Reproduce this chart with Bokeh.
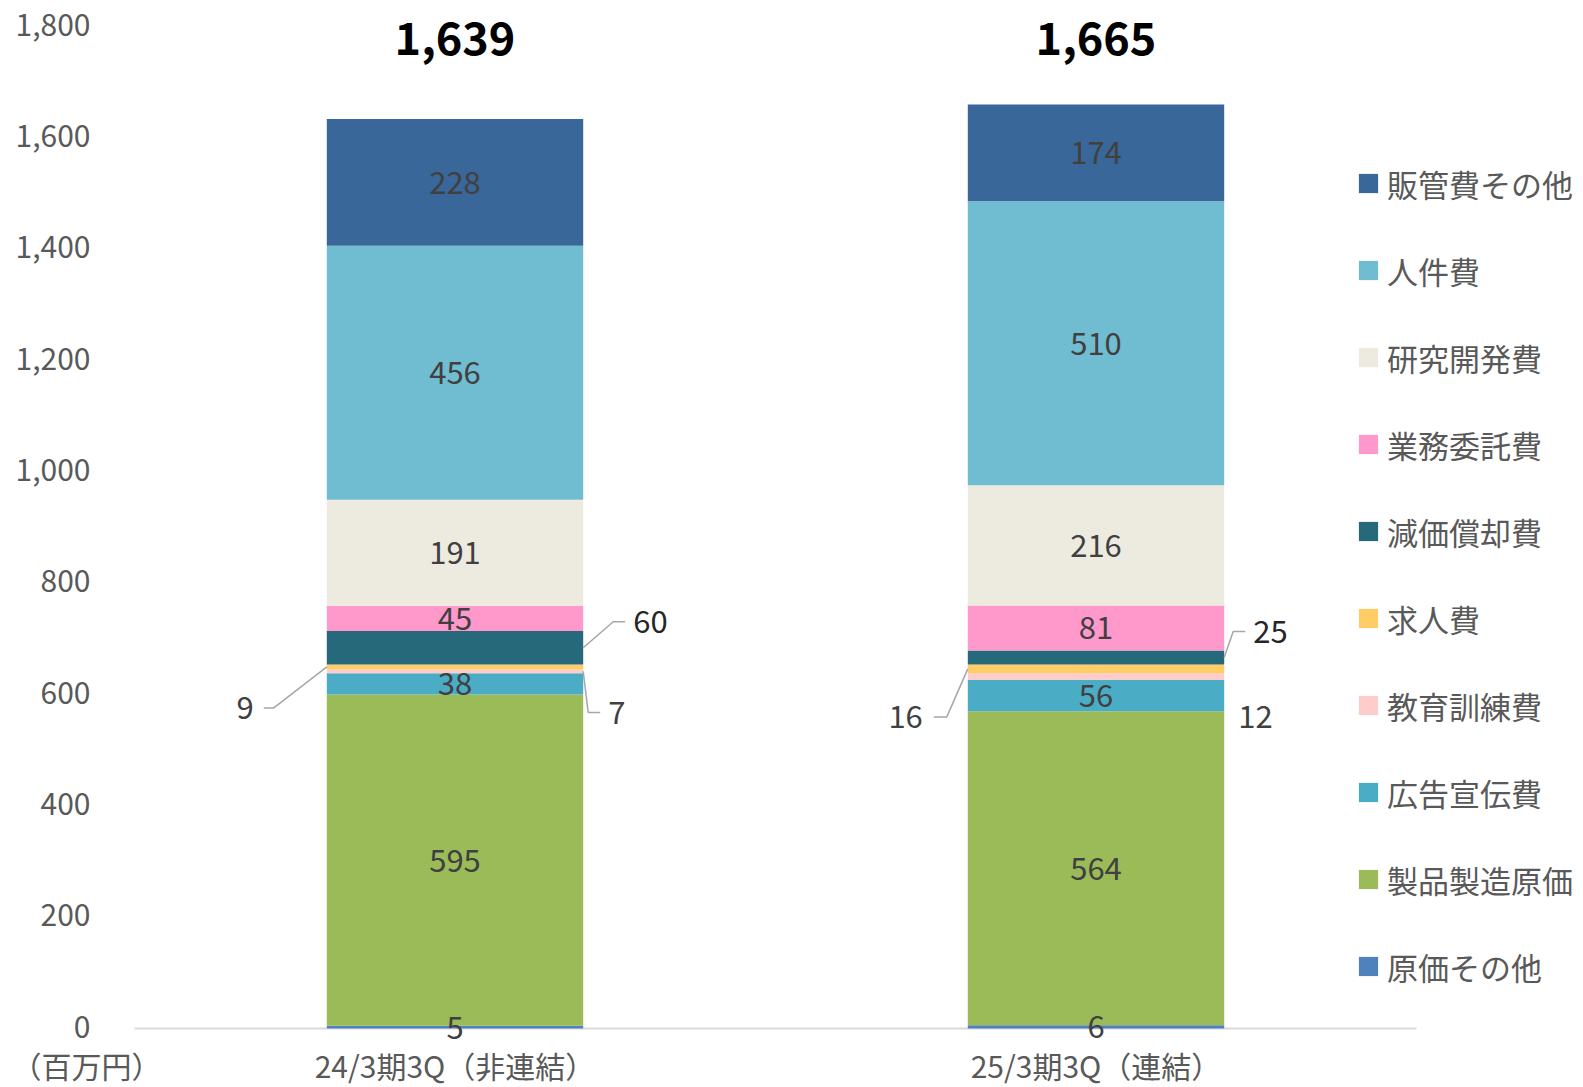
from bokeh.plotting import figure
from bokeh.models import ColumnDataSource, Range1d, Legend, LegendItem
from bokeh.core.properties import value
from bokeh.embed import file_html
from bokeh.resources import INLINE

# ---------------- data ----------------
periods = ["24/3期3Q（非連結）", "25/3期3Q（連結）"]
series = ["原価その他", "製品製造原価", "広告宣伝費", "教育訓練費", "求人費",
          "減価償却費", "業務委託費", "研究開発費", "人件費", "販管費その他"]
genka_sonota = [5, 6]
seihin_seizo = [595, 564]
koukoku = [38, 56]
kyouiku = [7, 12]
kyujin = [9, 16]
genka_shokyaku = [60, 25]
gyomu_itaku = [45, 81]
kenkyu = [191, 216]
jinken = [456, 510]
hankan_sonota = [228, 174]
totals = [1639, 1665]
y_ticks = [0, 200, 400, 600, 800, 1000, 1200, 1400, 1600, 1800]
unit_label = "（百万円）"

values = [genka_sonota, seihin_seizo, koukoku, kyouiku, kyujin,
          genka_shokyaku, gyomu_itaku, kenkyu, jinken, hankan_sonota]

# ---------------- style / layout ----------------
colors = ["#4F81BD", "#9BBB59", "#4BACC6", "#FFCCCC", "#FFCC66",
          "#25697A", "#FF99CC", "#EDEBE0", "#70BCD0", "#3A6799"]
FONT = "Noto Sans CJK JP"
W, H = 1583, 1087
PLOT_L, PLOT_R, PLOT_T, PLOT_B = 134, 1416, 26, 1028   # plot area in canvas px
Y_MAX = 1800
N = len(periods)
BAR_W = 0.4
px_x = N / (PLOT_R - PLOT_L)
px_y = Y_MAX / (PLOT_B - PLOT_T)

# labels drawn outside bars:
# (series, bar, side, elbow_dx, elbow_dy, end_dx, text_dx, text_dy, leader, dark)
outside = [
    ("求人費", 0, -1, -53, 41, -63, -73, 41, True, False),
    ("教育訓練費", 0, 1, 5, 41, 17, 25, 41, True, False),
    ("減価償却費", 0, 1, 30, -26, 42, 50, -26, True, True),
    ("求人費", 1, -1, -21, 48, -34, -45, 48, True, False),
    ("減価償却費", 1, 1, 9, -26, 21, 29, -26, True, True),
    ("教育訓練費", 1, 1, 0, 0, 0, 14, 40, False, False),
]
outside_keys = {(s, b) for s, b, *_ in outside}

xpos = [i + 0.5 for i in range(N)]
src = ColumnDataSource({"x": xpos, **{s: v for s, v in zip(series, values)}})

p = figure(x_range=Range1d(-PLOT_L * px_x, N + (W - PLOT_R) * px_x),
           y_range=Range1d(-(H - PLOT_B) * px_y, Y_MAX + PLOT_T * px_y),
           width=W, height=H, min_border=0,
           output_backend="svg", toolbar_location=None)
p.xaxis.visible = False
p.yaxis.visible = False
p.xgrid.visible = False
p.ygrid.visible = False
p.outline_line_color = None

# baseline (category axis line)
p.line(x=[0, N], y=[0, 0], line_color="#D9D9D9", line_width=2)

renderers = p.vbar_stack(series, x="x", width=BAR_W, color=colors,
                         line_color=None, source=src)

# cumulative positions
bottoms = []
cum = [0] * N
for v in values:
    bottoms.append(list(cum))
    cum = [c + x for c, x in zip(cum, v)]

# inside labels
ix, iy, it = [], [], []
for si, s in enumerate(series):
    for b in range(N):
        if (s, b) in outside_keys:
            continue
        ix.append(xpos[b])
        iy.append(bottoms[si][b] + values[si][b] / 2)
        it.append(str(values[si][b]))
p.text(x=ix, y=iy, text=it, text_align="center", text_baseline="middle",
       text_font=value(FONT), text_font_size="31px", text_color="#404040")

# outside labels with leader lines
lx, ly, ltxt, lxo, lyo, lal, lcol = [], [], [], [], [], [], []
mx, my = [], []
for s, b, side, ex, ey, endx, tx, ty, leader, dark in outside:
    si = series.index(s)
    ax = xpos[b] + side * BAR_W / 2
    ay = bottoms[si][b] + values[si][b] / 2
    if leader:
        mx.append([ax, ax + ex * px_x, ax + endx * px_x])
        my.append([ay, ay - ey * px_y, ay - ey * px_y])
    lx.append(ax)
    ly.append(ay)
    ltxt.append(str(values[si][b]))
    lxo.append(tx)
    lyo.append(ty)
    lal.append("right" if side < 0 else "left")
    lcol.append("#262626" if dark else "#404040")
p.multi_line(xs=mx, ys=my, line_color="#A6A6A6", line_width=1.5)
osrc = ColumnDataSource(dict(x=lx, y=ly, text=ltxt, xo=lxo, yo=lyo, al=lal, col=lcol))
p.text(x="x", y="y", text="text", x_offset="xo", y_offset="yo", text_align="al",
       text_baseline="middle", text_color="col", text_font=value(FONT),
       text_font_size="31px", source=osrc)

# totals
p.text(x=xpos, y=[Y_MAX] * N, text=[f"{t:,}" for t in totals], y_offset=12,
       text_align="center", text_baseline="middle", text_font=value(FONT),
       text_font_size="45px", text_font_style="bold", text_color="#000000")

# y tick labels
p.text(x=[0] * len(y_ticks), y=y_ticks, text=[f"{t:,}" for t in y_ticks],
       x_offset=-44, y_offset=-2, text_align="right", text_baseline="middle",
       text_font=value(FONT), text_font_size="30px", text_color="#595959")

# category labels
p.text(x=xpos, y=[0] * N, text=periods, y_offset=36, text_align="center",
       text_baseline="middle", text_font=value(FONT), text_font_size="30px",
       text_color="#595959")
# unit label
p.text(x=[0], y=[0], text=[unit_label], x_offset=-48, y_offset=36,
       text_align="center", text_baseline="middle", text_font=value(FONT),
       text_font_size="30px", text_color="#595959")

items = [LegendItem(label=s, renderers=[r]) for s, r in zip(series, renderers)][::-1]
legend = Legend(items=items, location=(1356, 98), orientation="vertical",
                glyph_width=24, glyph_height=24, label_height=46, spacing=41,
                label_standoff=7, padding=0, margin=0,
                border_line_color=None, background_fill_alpha=0,
                label_text_font=FONT, label_text_font_size="31px",
                label_text_color="#595959")
p.add_layout(legend, "center")

open("out.html", "w").write(file_html(p, INLINE))
